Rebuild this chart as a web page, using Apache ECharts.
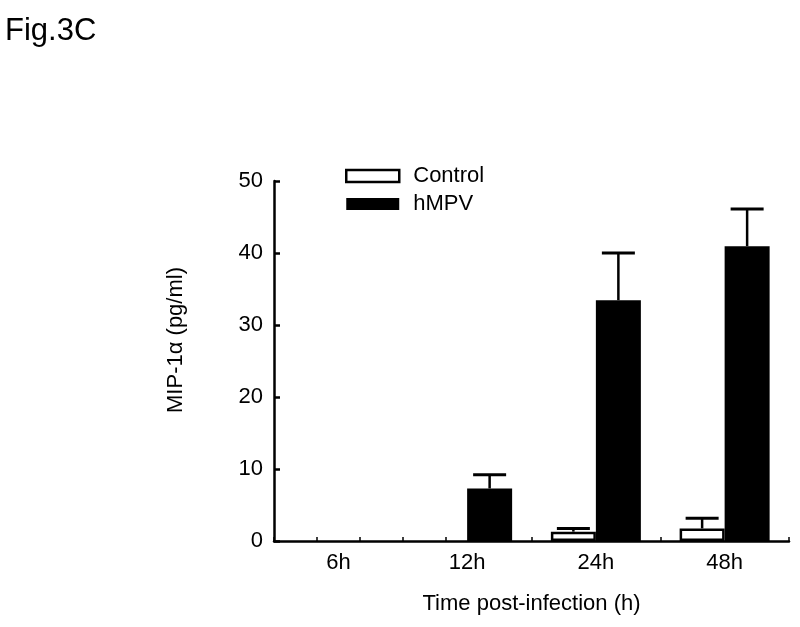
<!DOCTYPE html>
<html><head><meta charset="utf-8">
<script src="https://cdn.jsdelivr.net/npm/echarts@6/dist/echarts.min.js"></script>
<style>html,body{margin:0;padding:0;background:#fff}#c{width:800px;height:627px}</style>
</head><body><div id="c"></div>
<script>
const categories = ['6h', '12h', '24h', '48h'];
const controlMean = [0, 0, 1.3, 1.75];
const controlSem = [0, 0, 0.45, 1.4];
const hmpvMean = [0, 7.3, 33.45, 40.95];
const hmpvSem = [0, 1.9, 6.55, 5.15];
const yTicks = [0, 10, 20, 30, 40, 50];

const FONT = 'Liberation Sans, Arial, sans-serif';
const BAR_W = 45;

// minor tick axis: 3 ticks per category (13 boundary points)
const tickCats = [];
for (let k = 0; k <= categories.length * 3; k++) tickCats.push(String(k));

function barData(means) {
  return means.map(v => v === 0 ? { value: v, itemStyle: { borderWidth: 0 } } : v);
}
function errData(means, sems) {
  const out = [];
  means.forEach((m, i) => { if (sems[i] > 0) out.push([i, m, m + sems[i]]); });
  return out;
}
function errRender(offset) {
  return function (params, api) {
    const x = api.value(0), m = api.value(1), u = api.value(2);
    const b = api.coord([x, m]);
    const t = api.coord([x, u]);
    const cx = b[0] + offset;
    return {
      type: 'group',
      children: [
        { type: 'line', shape: { x1: cx, y1: b[1], x2: cx, y2: t[1] }, style: { stroke: '#000', lineWidth: 2.5 } },
        { type: 'line', shape: { x1: cx - 16.5, y1: t[1], x2: cx + 16.5, y2: t[1] }, style: { stroke: '#000', lineWidth: 3 } }
      ]
    };
  };
}

const chart = echarts.init(document.getElementById('c'));
chart.setOption({
  animation: false,
  backgroundColor: '#fff',
  textStyle: { fontFamily: FONT },
  title: { text: 'Fig.3C', left: 0, top: 11, textStyle: { fontFamily: FONT, fontSize: 31, fontWeight: 'normal', color: '#000' } },
  legend: {
    orient: 'vertical', left: 345, top: 165, padding: 0, itemWidth: 53, itemHeight: 12, itemGap: 6,
    textStyle: { fontFamily: FONT, fontSize: 22, color: '#000', padding: [0, 0, 0, 9] },
    data: [
      { name: 'Control', icon: 'rect', itemStyle: { color: '#fff', borderColor: '#000', borderWidth: 2.5 } },
      { name: 'hMPV', icon: 'rect', itemStyle: { color: '#000' } }
    ]
  },
  grid: { left: 274, right: 11, top: 181, bottom: 86 },
  xAxis: [
    {
      type: 'category', data: categories, boundaryGap: true,
      axisLine: { show: true, lineStyle: { color: '#000', width: 2.5 } },
      axisTick: { show: false },
      axisLabel: { show: true, margin: 11, fontFamily: FONT, fontSize: 22, color: '#000' },
      splitLine: { show: false },
      name: 'Time post-infection (h)', nameLocation: 'middle', nameGap: 52,
      nameTextStyle: { fontFamily: FONT, fontSize: 22, color: '#000' }
    },
    {
      type: 'category', data: tickCats, boundaryGap: false, position: 'bottom', offset: 0,
      axisLine: { show: false },
      axisTick: { show: true, inside: true, length: 4, interval: 0, lineStyle: { color: '#000', width: 1.5 } },
      axisLabel: { show: false },
      splitLine: { show: false }
    }
  ],
  yAxis: {
    type: 'value', min: yTicks[0], max: yTicks[yTicks.length - 1], interval: 10,
    axisLine: { show: true, lineStyle: { color: '#000', width: 2.5 } },
    axisTick: { show: true, inside: true, length: 6, lineStyle: { color: '#000', width: 2.5 } },
    axisLabel: { margin: 11, fontFamily: FONT, fontSize: 22, color: '#000' },
    splitLine: { show: false }
  },
  graphic: [{
    type: 'text', left: 165, top: 267, rotation: Math.PI / 2,
    style: { text: 'MIP-1α (pg/ml)', font: '22px Liberation Sans, Arial, sans-serif', fill: '#000' }
  }],
  series: [
    {
      name: 'Control', type: 'bar', xAxisIndex: 0, data: barData(controlMean), barWidth: BAR_W, barGap: '0%',
      itemStyle: { color: '#fff', borderColor: '#000', borderWidth: 2.5 }
    },
    {
      name: 'hMPV', type: 'bar', xAxisIndex: 0, data: barData(hmpvMean), barWidth: BAR_W, barGap: '0%',
      itemStyle: { color: '#000', borderColor: '#000', borderWidth: 0 }
    },
    { type: 'custom', xAxisIndex: 0, data: errData(controlMean, controlSem), renderItem: errRender(-BAR_W / 2), z: 5 },
    { type: 'custom', xAxisIndex: 0, data: errData(hmpvMean, hmpvSem), renderItem: errRender(BAR_W / 2), z: 5 }
  ]
});
</script>
</body></html>
